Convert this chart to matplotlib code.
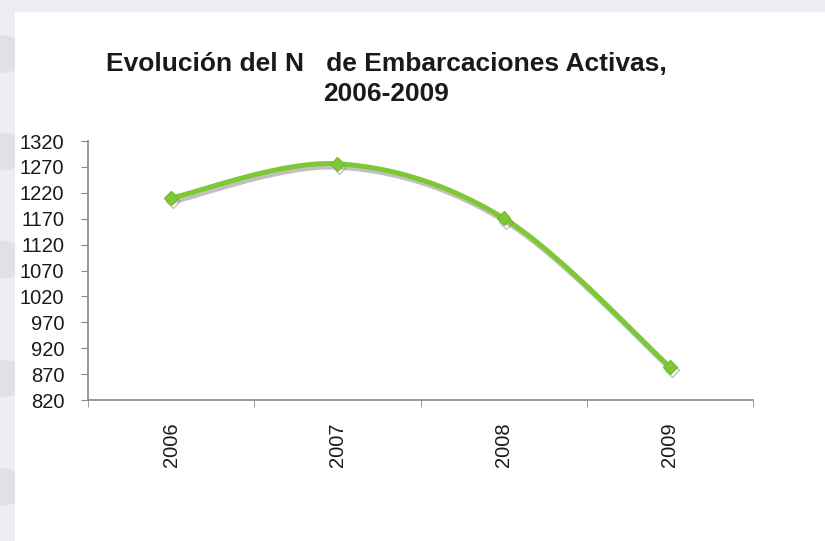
import numpy as np
import matplotlib
matplotlib.use("Agg")
import matplotlib.pyplot as plt
import matplotlib.patheffects as pe
from matplotlib.patches import Rectangle, Circle

# Daten
years = ["2006", "2007", "2008", "2009"]
boats = [1210, 1276, 1171, 884]
y_ticks = list(range(820, 1321, 50))

plt.rcParams["font.family"] = ["Liberation Sans", "DejaVu Sans"]


def smooth_curve(xs, ys, n=40):
    # Excel-artige Glättung (Catmull-Rom als Bezier)
    px = np.array(xs, dtype=float)
    py = np.array(ys, dtype=float)
    out_x, out_y = [], []
    for i in range(len(px) - 1):
        p0 = i - 1 if i > 0 else i
        p3 = i + 2 if i + 2 < len(px) else i + 1
        c1x = px[i] + (px[i + 1] - px[p0]) / 6
        c1y = py[i] + (py[i + 1] - py[p0]) / 6
        c2x = px[i + 1] - (px[p3] - px[i]) / 6
        c2y = py[i + 1] - (py[p3] - py[i]) / 6
        t = np.linspace(0, 1, n)
        bx = (1 - t) ** 3 * px[i] + 3 * (1 - t) ** 2 * t * c1x + 3 * (1 - t) * t ** 2 * c2x + t ** 3 * px[i + 1]
        by = (1 - t) ** 3 * py[i] + 3 * (1 - t) ** 2 * t * c1y + 3 * (1 - t) * t ** 2 * c2y + t ** 3 * py[i + 1]
        out_x.extend(bx)
        out_y.extend(by)
    return out_x, out_y


fig = plt.figure(figsize=(8.25, 5.41), dpi=100)
fig.patch.set_facecolor("#eceef2")

# dezente Kreise links, weißes Feld
for cy in [0.9, 0.72, 0.52, 0.3, 0.1]:
    fig.patches.append(Circle((0.0, cy), 0.035, transform=fig.transFigure,
                              facecolor="#dfe1e6", edgecolor="none", zorder=-2))
fig.patches.append(Rectangle((15 / 825, 0), 1, 1 - 12 / 541, transform=fig.transFigure,
                             facecolor="white", edgecolor="none", zorder=-1))

ax = fig.add_axes([88 / 825, 141 / 541, 665 / 825, 259 / 541])
ax.set_facecolor("none")

x = np.arange(len(years))
sx, sy = smooth_curve(x, boats)
shadow = [pe.SimpleLineShadow(offset=(1.5, -2.5), shadow_color="#777777", alpha=0.45), pe.Normal()]
ax.plot(sx, sy, color="#7dc935", linewidth=3.6, solid_capstyle="round",
        path_effects=shadow, zorder=3, clip_on=False)
ax.plot(x, boats, linestyle="none", marker="D", markersize=7, color="#7dc935",
        markeredgecolor="#72bf2c", path_effects=shadow, zorder=4, clip_on=False)

ax.set_xlim(-0.5, 3.5)
ax.set_ylim(820, 1320)
ax.set_yticks(y_ticks)
ax.set_yticklabels([str(v) for v in y_ticks], fontsize=14.5, color="#1a1a1a")
ax.set_xticks(x)
ax.set_xticklabels(years, rotation=90, fontsize=14.5, color="#1a1a1a")
ax.set_xticks(np.arange(-0.5, 3.6, 1), minor=True)
ax.tick_params(axis="x", which="major", length=0, pad=16)
ax.tick_params(axis="x", which="minor", length=5, color="#888888", direction="out")
ax.tick_params(axis="y", length=5, color="#888888", pad=12)

for side in ["top", "right"]:
    ax.spines[side].set_visible(False)
for side in ["left", "bottom"]:
    ax.spines[side].set_color("#888888")
    ax.spines[side].set_linewidth(1.2)

fig.text(386 / 825, 1 - 79 / 541, "Evolución del N   de Embarcaciones Activas,\n2006-2009",
         ha="center", va="center", fontsize=19, fontweight="bold", color="#1a1a1a",
         linespacing=1.3)

fig.savefig("out.png", dpi=100, facecolor=fig.get_facecolor())
